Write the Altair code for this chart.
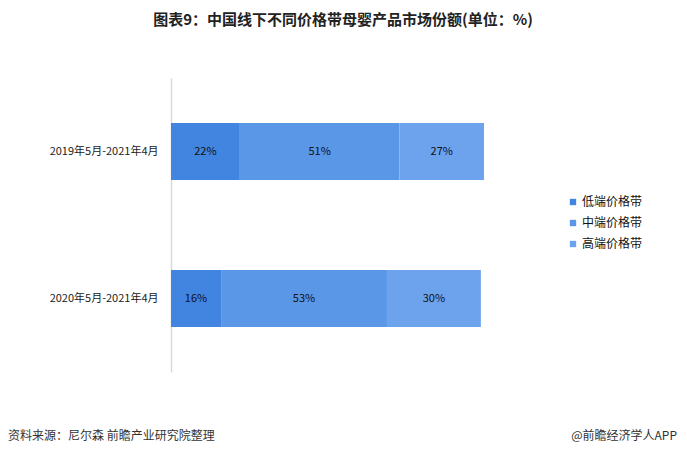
import altair as alt
import pandas as pd

periods = ["2019年5月-2021年4月", "2020年5月-2021年4月"]
bands = ["低端价格带", "中端价格带", "高端价格带"]
low = [22, 16]
mid = [51, 53]
high = [27, 30]
colors = ["#4185E0", "#5A97E6", "#6CA3EC"]

rows = []
for i, p in enumerate(periods):
    for j, (b, v) in enumerate(zip(bands, [low[i], mid[i], high[i]])):
        rows.append({"period": p, "band": b, "value": v, "order": j, "label": f"{v}%"})
df = pd.DataFrame(rows)

FONT = "Noto Sans CJK SC"
PL, PT = 163, 70
W, H = 313, 294

base = alt.Chart(df)

bars = base.mark_bar(size=57).encode(
    y=alt.Y("period:N", sort=periods, title=None,
            scale=alt.Scale(paddingInner=0, paddingOuter=0),
            axis=alt.Axis(ticks=False, domainColor="#d9d9d9", domainWidth=1.5,
                          labelFont=FONT, labelFontSize=11, labelColor="#222",
                          labelPadding=13)),
    x=alt.X("value:Q", stack="zero", title=None,
            scale=alt.Scale(domain=[0, 100], nice=False), axis=None),
    color=alt.Color("band:N", sort=bands, title=None,
                    scale=alt.Scale(domain=bands, range=colors),
                    legend=alt.Legend(orient="none", legendX=396, legendY=118,
                                      symbolType="square", symbolSize=40,
                                      symbolStrokeWidth=0,
                                      labelFont=FONT, labelFontSize=12,
                                      labelColor="#111", rowPadding=9,
                                      labelOffset=3)),
    order=alt.Order("order:Q"),
)

labels = base.mark_text(font=FONT, fontSize=11, color="#111").encode(
    y=alt.Y("period:N", sort=periods),
    x=alt.X("mid:Q"),
    text="label:N",
).transform_window(
    cum="sum(value)", groupby=["period"], sort=[alt.SortField("order")],
    frame=[None, 0]
).transform_calculate(mid="datum.cum - datum.value / 2")

title_df = pd.DataFrame({"t": ["图表9：中国线下不同价格带母婴产品市场份额(单位：%)"]})
title = alt.Chart(title_df).mark_text(font=FONT, fontSize=15, fontWeight="bold",
                                      color="#222", align="center", baseline="middle").encode(
    x=alt.value(343 - 8 - PL), y=alt.value(20 - 8 - PT), text="t:N")

src_df = pd.DataFrame({"t": ["资料来源：尼尔森 前瞻产业研究院整理"]})
src = alt.Chart(src_df).mark_text(font=FONT, fontSize=12, color="#333",
                                  align="left", baseline="middle").encode(
    x=alt.value(8 - 8 - PL), y=alt.value(436 - 8 - PT), text="t:N")

cred_df = pd.DataFrame({"t": ["@前瞻经济学人APP"]})
cred = alt.Chart(cred_df).mark_text(font=FONT, fontSize=12, color="#333",
                                    align="right", baseline="middle").encode(
    x=alt.value(677 - 8 - PL), y=alt.value(436 - 8 - PT), text="t:N")

chart = alt.layer(bars, labels, title, src, cred).properties(
    width=W, height=H,
    autosize=alt.AutoSizeParams(type="none"),
    padding={"left": PL, "top": PT, "right": 194, "bottom": 74},
).configure(background="white").configure_view(stroke=None, strokeWidth=0)

chart.save("out.html", embed_options={"renderer": "svg", "actions": False})
